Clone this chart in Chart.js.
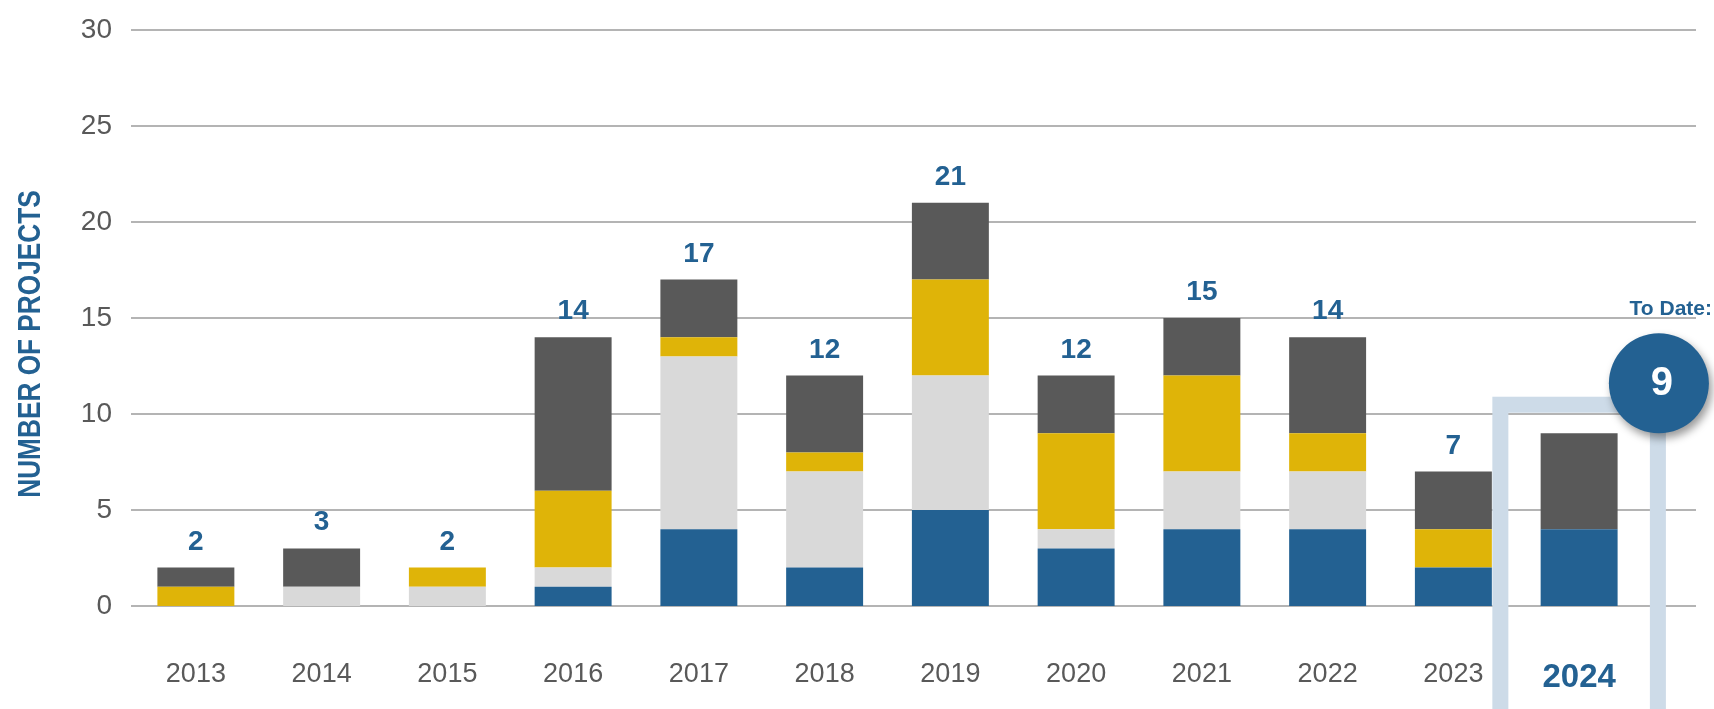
<!DOCTYPE html>
<html>
<head>
<meta charset="utf-8">
<script src="https://cdn.jsdelivr.net/npm/chart.js@4/dist/chart.umd.min.js"></script>
<style>
  html, body { margin: 0; padding: 0; background: #ffffff; }
  #wrap { width: 1714px; height: 709px; }
</style>
</head>
<body>
<div id="wrap"><canvas id="projectsChart" width="1714" height="709"></canvas></div>
<script>
// Jaren op de x-as
const years = ['2013', '2014', '2015', '2016', '2017', '2018', '2019', '2020', '2021', '2022', '2023', '2024'];

// Aantal projecten per segment (van onder naar boven gestapeld)
const blueValues      = [0, 0, 0, 1, 4, 2, 5, 3, 4, 4, 2, 4];
const lightGrayValues = [0, 1, 1, 1, 9, 5, 7, 1, 3, 3, 0, 0];
const yellowValues    = [1, 0, 1, 4, 1, 1, 5, 5, 5, 2, 2, 0];
const darkGrayValues  = [1, 2, 0, 8, 3, 4, 4, 3, 3, 5, 3, 5];

// Y-as
const yTicks = [0, 5, 10, 15, 20, 25, 30];
const yTitle = 'NUMBER OF PROJECTS';
const toDateText = 'To Date:';

// Kleuren
const colors = {
    blue: '#236192',
    lightGray: '#d9d9d9',
    yellow: '#dfb408',
    darkGray: '#595959',
    grid: '#b4b4b4',
    tick: '#595959',
    box: '#cddbe8'
};

const fontFamily = "'Liberation Sans', Arial, sans-serif";
const highlightIndex = years.length - 1;

// Totaal per jaar
const totals = years.map((y, i) => blueValues[i] + lightGrayValues[i] + yellowValues[i] + darkGrayValues[i]);

// Rasterlijnen, 2024-kader, totalen, y-titel en het "To Date" bolletje
const decorations = {
    id: 'decorations',
    beforeDatasetsDraw(chart) {
        const { ctx, chartArea, scales: { x, y } } = chart;
        ctx.save();
        // horizontale rasterlijnen, iets langer dan het plotgebied
        ctx.strokeStyle = colors.grid;
        ctx.lineWidth = 2;
        yTicks.forEach(t => {
            const py = Math.round(y.getPixelForValue(t));
            ctx.beginPath();
            ctx.moveTo(chartArea.left - 2, py);
            ctx.lineTo(chart.width - 18, py);
            ctx.stroke();
        });
        // kader rond 2024
        const step = x.getPixelForValue(1) - x.getPixelForValue(0);
        const cx = x.getPixelForValue(highlightIndex);
        const half = step * 0.69;
        const top = y.getPixelForValue(10.9);
        ctx.strokeStyle = colors.box;
        ctx.lineWidth = 16;
        ctx.strokeRect(cx - half + 8, top + 8, half * 2 - 16, chart.height + 40 - top);
        ctx.restore();
    },
    afterDatasetsDraw(chart) {
        const { ctx, chartArea, scales: { x, y } } = chart;
        ctx.save();
        // totalen boven de staven
        ctx.fillStyle = colors.blue;
        ctx.font = 'bold 28px ' + fontFamily;
        ctx.textAlign = 'center';
        ctx.textBaseline = 'alphabetic';
        totals.forEach((total, i) => {
            if (i === highlightIndex) return;
            ctx.fillText(String(total), x.getPixelForValue(i), y.getPixelForValue(total) - 18);
        });

        // y-as titel, smal gezet
        ctx.save();
        ctx.translate(31, (chartArea.top + chartArea.bottom) / 2 + 26);
        ctx.rotate(-Math.PI / 2);
        ctx.scale(0.82, 1);
        ctx.font = 'bold 32px ' + fontFamily;
        ctx.textAlign = 'center';
        ctx.textBaseline = 'middle';
        ctx.fillText(yTitle, 0, 0);
        ctx.restore();

        // bolletje met totaal tot nu toe
        const step = x.getPixelForValue(1) - x.getPixelForValue(0);
        const bx = x.getPixelForValue(highlightIndex) + step * 0.69 - 7;
        const by = y.getPixelForValue(11.6);
        ctx.shadowColor = 'rgba(0, 0, 0, 0.4)';
        ctx.shadowBlur = 8;
        ctx.shadowOffsetX = 3;
        ctx.shadowOffsetY = 5;
        ctx.fillStyle = colors.blue;
        ctx.beginPath();
        ctx.arc(bx, by, 50, 0, Math.PI * 2);
        ctx.fill();
        ctx.shadowColor = 'transparent';
        ctx.fillStyle = '#ffffff';
        ctx.font = 'bold 40px ' + fontFamily;
        ctx.textBaseline = 'middle';
        ctx.fillText(String(totals[highlightIndex]), bx + 3, by + 1);

        ctx.fillStyle = colors.blue;
        ctx.font = 'bold 21px ' + fontFamily;
        ctx.textAlign = 'right';
        ctx.textBaseline = 'alphabetic';
        ctx.fillText(toDateText, chart.width - 2, y.getPixelForValue(15) - 3);
        ctx.restore();
    }
};

const ctx = document.getElementById('projectsChart').getContext('2d');

new Chart(ctx, {
    type: 'bar',
    data: {
        labels: years,
        datasets: [
            { label: 'Blue', data: blueValues, backgroundColor: colors.blue },
            { label: 'Light gray', data: lightGrayValues, backgroundColor: colors.lightGray },
            { label: 'Yellow', data: yellowValues, backgroundColor: colors.yellow },
            { label: 'Dark gray', data: darkGrayValues, backgroundColor: colors.darkGray }
        ]
    },
    options: {
        responsive: false,
        animation: false,
        devicePixelRatio: 1,
        layout: {
            padding: { top: 30, right: 72, bottom: 0, left: 0 }
        },
        datasets: {
            bar: {
                categoryPercentage: 1,
                barPercentage: 0.612,
                borderWidth: 0
            }
        },
        scales: {
            x: {
                stacked: true,
                grid: { display: false },
                border: { display: false },
                ticks: {
                    padding: 44,
                    color: c => c.index === highlightIndex ? colors.blue : colors.tick,
                    font: c => c.index === highlightIndex
                        ? { family: fontFamily, size: 33, weight: 'bold' }
                        : { family: fontFamily, size: 27 }
                },
                afterFit: s => { s.height = 103; }
            },
            y: {
                stacked: true,
                min: 0,
                max: 30,
                grid: { display: false },
                border: { display: false },
                ticks: {
                    stepSize: 5,
                    padding: 13,
                    color: colors.tick,
                    font: { family: fontFamily, size: 28 }
                },
                afterFit: s => { s.width = 133; }
            }
        },
        plugins: {
            legend: { display: false },
            tooltip: { enabled: false }
        }
    },
    plugins: [decorations]
});
</script>
</body>
</html>
